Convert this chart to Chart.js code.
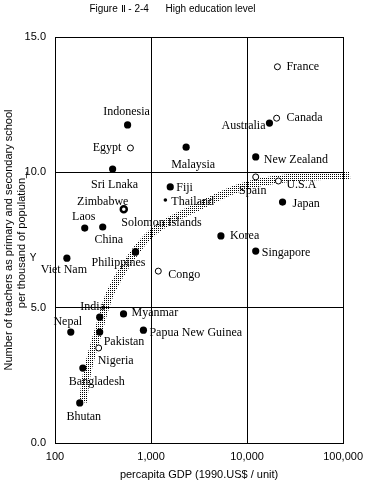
<!DOCTYPE html>
<html>
<head>
<meta charset="utf-8">
<script src="https://cdn.jsdelivr.net/npm/chart.js@4.4.1/dist/chart.umd.min.js"></script>
<style>
  body { margin: 0; background: #fff; }
  #wrap { width: 370px; height: 485px; position: relative; }
</style>
</head>
<body>
<div id="wrap"><canvas id="chart"></canvas></div>
<script>
// countries drawn with filled circles
const filledNames = ['Indonesia', 'Malaysia', 'Australia', 'New Zealand', 'Sri Lnaka', 'Fiji', 'Thailand',
  'Japan', 'Laos', 'China', 'Solomon Islands', 'Philippines', 'Korea', 'Singapore', 'Viet Nam',
  'India', 'Myanmar', 'Nepal', 'Pakistan', 'Papua New Guinea', 'Bangladesh', 'Bhutan'];
const filledGdp = [570, 2320, 17100, 12300, 398, 1585, 1410,
  23400, 204, 314, 689, 689, 5340, 12300, 133,
  292, 517, 146, 292, 833, 195, 181];
const filledTeachers = [11.75, 10.93, 11.82, 10.57, 10.12, 9.46, 8.98,
  8.9, 7.94, 7.98, 7.06, 7.06, 7.65, 7.09, 6.83,
  4.65, 4.77, 4.1, 4.1, 4.17, 2.77, 1.48];

// countries drawn with open circles
const openNames = ['France', 'Canada', 'Egypt', 'Spain', 'U.S.A', 'Zimbabwe', 'Congo', 'Nigeria'];
const openGdp = [20700, 20300, 610, 12300, 21200, 520, 1190, 285];
const openTeachers = [13.9, 12.0, 10.9, 9.83, 9.68, 8.64, 6.35, 3.51];

// hatched trend band
const bandGdp = [195, 219, 299, 389, 705, 1220, 3160, 8810, 27000, 118000];
const bandTeachers = [1.51, 2.7, 4.43, 5.65, 7.13, 7.98, 8.75, 9.46, 9.79, 9.9];

const xTicks = [100, 1000, 10000, 100000];
const yTicks = [0, 5, 10, 15];

// label placement: [align, dx, dy] from the marker
const labelPos = {
  'Indonesia': ['center', -1, -13], 'Egypt': ['right', -9, 0], 'Malaysia': ['center', 7, 18],
  'France': ['left', 9, 0], 'Canada': ['left', 10, 0], 'Australia': ['right', -4, 3],
  'New Zealand': ['left', 8, 3], 'Sri Lnaka': ['center', 2, 16], 'Spain': ['center', -3, 14],
  'U.S.A': ['left', 8, 4], 'Fiji': ['left', 6, 1], 'Thailand': ['left', 6, 2],
  'Japan': ['left', 10, 2], 'Zimbabwe': ['center', -21, -7], 'Laos': ['center', -1, -11],
  'China': ['center', 6, 13], 'Solomon Islands': ['center', 26, -29], 'Philippines': ['center', -17, 11],
  'Korea': ['left', 9, 0], 'Singapore': ['left', 6, 2], 'Viet Nam': ['center', -3, 12],
  'Congo': ['left', 10, 4], 'India': ['center', -7, -10], 'Myanmar': ['left', 8, -1],
  'Nepal': ['center', -3, -10], 'Pakistan': ['left', 4, 10], 'Papua New Guinea': ['left', 6, 3],
  'Nigeria': ['left', -1, 13], 'Bangladesh': ['center', 14, 14], 'Bhutan': ['center', 4, 14]
};

const toPoints = (xs, ys) => xs.map((x, i) => ({ x: x, y: ys[i] }));

// sparse stipple pattern for the band
const pc = document.createElement('canvas');
pc.width = 2; pc.height = 2;
const pctx = pc.getContext('2d');
pctx.fillStyle = '#000';
pctx.fillRect(0, 0, 1, 1);
const ctx = document.getElementById('chart').getContext('2d');
const stipple = ctx.createPattern(pc, 'repeat');

const pointLabels = {
  id: 'pointLabels',
  beforeDatasetsDraw(chart) {
    const c = chart.ctx;
    c.save();
    c.font = '12px "Liberation Serif", serif';
    c.fillStyle = '#000';
    c.textBaseline = 'middle';
    [[0, filledNames], [1, openNames]].forEach(([di, names]) => {
      chart.getDatasetMeta(di).data.forEach((el, i) => {
        const p = labelPos[names[i]];
        c.textAlign = p[0];
        c.fillText(names[i], el.x + p[1], el.y + p[2]);
      });
    });
    c.restore();
  },
  afterDraw(chart) {
    const c = chart.ctx;
    c.save();
    c.font = '10px "Liberation Sans", sans-serif';
    c.fillStyle = '#000';
    c.textAlign = 'center';
    c.textBaseline = 'middle';
    c.fillText('Y', 33, 258);
    c.restore();
  }
};

new Chart(ctx, {
  type: 'scatter',
  data: {
    datasets: [
      {
        data: toPoints(filledGdp, filledTeachers),
        backgroundColor: '#000',
        borderWidth: 0,
        pointRadius: c => filledNames[c.dataIndex] === 'Thailand' ? 1.8 : 3.6
      },
      {
        data: toPoints(openGdp, openTeachers),
        backgroundColor: '#fff',
        borderColor: '#000',
        pointRadius: 3,
        borderWidth: c => openNames[c.dataIndex] === 'Zimbabwe' ? 2.5 : 1
      },
      {
        data: toPoints(bandGdp, bandTeachers),
        showLine: true,
        borderColor: stipple,
        borderWidth: 8,
        pointRadius: 0,
        tension: 0.35,
        clip: false
      }
    ]
  },
  options: {
    responsive: true,
    maintainAspectRatio: false,
    animation: false,
    layout: { padding: { left: 0, right: 25, top: 0, bottom: 0 } },
    plugins: {
      legend: { display: false },
      tooltip: { enabled: false },
      title: {
        display: true,
        text: 'Figure \u2161 - 2-4      High education level',
        color: '#000',
        font: { family: '"Liberation Sans", sans-serif', size: 10, weight: 'normal' },
        padding: { top: 3, bottom: 22 }
      }
    },
    scales: {
      x: {
        type: 'logarithmic',
        min: 100,
        max: 100000,
        afterBuildTicks: s => { s.ticks = xTicks.map(v => ({ value: v })); },
        afterFit: s => { s.height = 42; },
        ticks: {
          color: '#000',
          padding: 7,
          font: { family: '"Liberation Sans", sans-serif', size: 11 },
          callback: v => Number(v).toLocaleString('en-US')
        },
        grid: { color: '#000', drawTicks: false },
        border: { color: '#000' },
        title: {
          display: true,
          text: 'percapita GDP (1990.US$ / unit)',
          color: '#000',
          font: { family: '"Liberation Sans", sans-serif', size: 11 },
          padding: { top: 0, bottom: 3 }
        }
      },
      y: {
        min: 0,
        max: 15,
        afterBuildTicks: s => { s.ticks = yTicks.map(v => ({ value: v })); },
        afterFit: s => { s.width = 55; },
        ticks: {
          color: '#000',
          padding: 9,
          font: { family: '"Liberation Sans", sans-serif', size: 11 },
          callback: v => Number(v).toFixed(1)
        },
        grid: { color: '#000', drawTicks: false },
        border: { color: '#000' },
        title: {
          display: true,
          text: ['Number of teachers as primary and secondary school', 'per thousand of population_'],
          color: '#000',
          font: { family: '"Liberation Sans", sans-serif', size: 11 },
          padding: { top: 2, bottom: 0 }
        }
      }
    }
  },
  plugins: [pointLabels]
});
</script>
</body>
</html>
